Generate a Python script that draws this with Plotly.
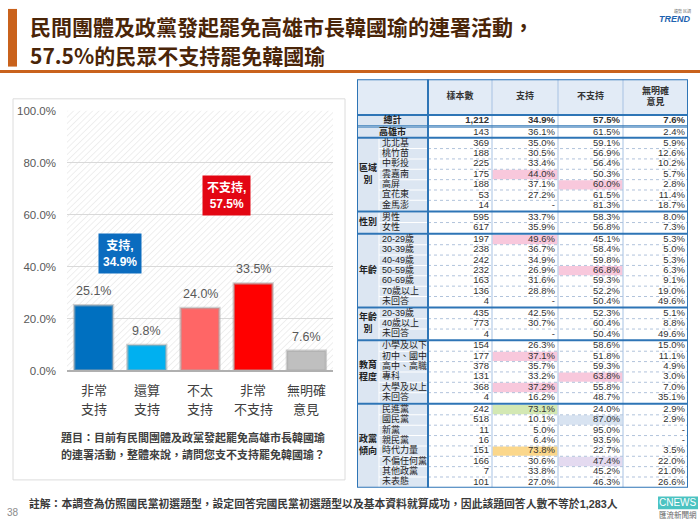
import base64
import plotly.graph_objects as go

W, H = 700, 525
FONT = "Liberation Sans, 'Noto Sans CJK TC', sans-serif"
CJK = "'Noto Sans CJK TC', sans-serif"

# ---------------- data: bar chart ----------------
bar_line1 = ["非常", "還算", "不太", "非常", "無明確"]
bar_line2 = ["支持", "支持", "支持", "不支持", "意見"]
bar_values = [25.1, 9.8, 24.0, 33.5, 7.6]
bar_colors = ["#0070c0", "#00b0f0", "#ff6666", "#ff0000", "#bfbfbf"]
y_ticks = [0, 20, 40, 60, 80, 100]

summary_names = ["支持", "不支持"]
summary_values = [34.9, 57.5]
summary_colors = ["#0b6cbf", "#e30613"]
summary_between = [0.5, 2.5]

# ---------------- data: table ----------------
table_headers = ["樣本數", "支持", "不支持", "無明確<br>意見"]
group_titles = ["", "", "區域<br>別", "性別", "年齡", "年齡<br>別", "教育<br>程度", "政黨<br>傾向"]
group_rows = [
    ["總計"],
    ["高雄市"],
    ["北北基", "桃竹苗", "中彰投", "雲嘉南", "高屏", "宜花東", "金馬澎"],
    ["男性", "女性"],
    ["20-29歲", "30-39歲", "40-49歲", "50-59歲", "60-69歲", "70歲以上", "未回答"],
    ["20-39歲", "40歲以上", "未回答"],
    ["小學及以下", "初中、國中", "高中、高職", "專科", "大學及以上", "未回答"],
    ["民進黨", "國民黨", "新黨", "親民黨", "時代力量", "不偏任何黨", "其他政黨", "未表態"],
]
row_n = [1212, 143,
         369, 188, 225, 175, 188, 53, 14,
         595, 617,
         197, 238, 242, 232, 163, 136, 4,
         435, 773, 4,
         154, 177, 378, 131, 368, 4,
         242, 518, 11, 16, 151, 166, 7, 101]
row_support = [34.9, 36.1,
               35.0, 30.5, 33.4, 44.0, 37.1, 27.2, None,
               33.7, 35.9,
               49.6, 36.7, 34.9, 26.9, 31.6, 28.8, None,
               42.5, 30.7, None,
               26.3, 37.1, 35.7, 33.2, 37.2, 16.2,
               73.1, 10.1, 5.0, 6.4, 73.8, 30.6, 33.8, 27.0]
row_oppose = [57.5, 61.5,
              59.1, 56.9, 56.4, 50.3, 60.0, 61.5, 81.3,
              58.3, 56.8,
              45.1, 58.4, 59.8, 66.8, 59.3, 52.2, 50.4,
              52.3, 60.4, 50.4,
              58.6, 51.8, 59.3, 63.8, 55.8, 48.7,
              24.0, 87.0, 95.0, 93.5, 22.7, 47.4, 45.2, 46.3]
row_none = [7.6, 2.4,
            5.9, 12.6, 10.2, 5.7, 2.8, 11.4, 18.7,
            8.0, 7.3,
            5.3, 5.0, 5.3, 6.3, 9.1, 19.0, 49.6,
            5.1, 8.8, 49.6,
            15.0, 11.1, 4.9, 3.0, 7.0, 35.1,
            2.9, 2.9, None, None, 3.5, 22.0, 21.0, 26.6]

# highlighted cells: (row label, column index 1=支持 2=不支持) -> fill
PINK, GREEN, LBLUE, YELLOW, PURPLE = "#f8c8dc", "#d3e8b3", "#d8e3f1", "#fbd78b", "#e4daf0"
highlights = {
    ("雲嘉南", 1): PINK, ("高屏", 2): PINK, ("20-29歲", 1): PINK, ("50-59歲", 2): PINK,
    ("初中、國中", 1): PINK, ("專科", 2): PINK, ("大學及以上", 1): PINK,
    ("民進黨", 1): GREEN, ("國民黨", 2): LBLUE, ("時代力量", 1): YELLOW, ("不偏任何黨", 2): PURPLE,
}


def fmt_pct(v):
    return "-" if v is None else f"{v:.1f}%"


fig = go.Figure()

# ================= bar chart =================
px_left, px_right, px_top, px_bottom = 67, 333, 107, 373
fig.add_trace(go.Bar(
    x=list(range(len(bar_values))), y=bar_values,
    marker=dict(color=bar_colors, line=dict(color="rgba(170,170,170,0.55)", width=2.5)),
    width=0.73, showlegend=False, hoverinfo="skip", xaxis="x", yaxis="y",
))

annotations = []
for i, v in enumerate(bar_values):
    annotations.append(dict(x=i, y=v, xref="x", yref="y", text=f"{v:.1f}%", showarrow=False,
                            yanchor="bottom", yshift=5,
                            font=dict(family=FONT, size=12.5, color="#595959")))
    annotations.append(dict(x=i, y=0, xref="x", yref="y", text=bar_line1[i], showarrow=False,
                            yanchor="middle", yshift=-19,
                            font=dict(family=CJK, size=13, color="#404040")))
    annotations.append(dict(x=i, y=0, xref="x", yref="y", text=bar_line2[i], showarrow=False,
                            yanchor="middle", yshift=-38,
                            font=dict(family=CJK, size=13, color="#404040")))

for name, v, c, xb in zip(summary_names, summary_values, summary_colors, summary_between):
    annotations.append(dict(x=xb, y=v + 10, xref="x", yref="y",
                            text=f"<b>{name},<br>{v:.1f}%</b>", showarrow=False,
                            bgcolor=c, borderpad=4, align="center",
                            font=dict(family=FONT, size=12, color="white")))

# hatch background of plot area
svg = ("<svg xmlns='http://www.w3.org/2000/svg' width='266' height='266'>"
       "<defs><pattern id='p' width='4.5' height='4.5' patternUnits='userSpaceOnUse' "
       "patternTransform='rotate(45)'><line x1='0' y1='0' x2='0' y2='4.5' stroke='#e1e1e1' "
       "stroke-width='1.1'/></pattern></defs>"
       "<rect width='100%' height='100%' fill='white'/>"
       "<rect width='100%' height='100%' fill='url(#p)'/></svg>")
img_src = "data:image/svg+xml;base64," + base64.b64encode(svg.encode()).decode()

images = [dict(source=img_src, xref="paper", yref="paper",
               x=px_left / W, y=1 - px_top / H,
               sizex=(px_right - px_left) / W, sizey=(px_bottom - px_top) / H,
               xanchor="left", yanchor="top", sizing="stretch", layer="below")]

# ================= table =================
col_edges = [0, 22, 71, 135, 201, 266, 331]
header_h = 36.5
row_h = 10.6
block_gaps = [0.3, 1.6, 0.7, 1.5, 1.5, 1.5, 1.5, 1.5]

row_labels, row_titles, row_top, block_span = [], [], [], []
y = header_h
for bi, rows in enumerate(group_rows):
    y += block_gaps[bi]
    b0 = y
    for lab in rows:
        row_labels.append(lab)
        row_titles.append(group_titles[bi])
        row_top.append(y)
        y += row_h
    block_span.append((b0, y))
table_bottom = y + 0.3
row_center = [t + row_h / 2 for t in row_top]

tb_left, tb_top = 357, 75
BLUE = "#2e75b6"
THIN = "#a7c2e3"
LABEL_FILL = "#dce6f2"
shapes = []


def trect(x0, x1, y0, y1, fill):
    shapes.append(dict(type="rect", xref="x2", yref="y2", x0=x0, x1=x1, y0=y0, y1=y1,
                       fillcolor=fill, line=dict(width=0), layer="below"))


def tline(x0, x1, y0, y1, color, width, dash="solid"):
    shapes.append(dict(type="line", xref="x2", yref="y2", x0=x0, x1=x1, y0=y0, y1=y1,
                       line=dict(color=color, width=width, dash=dash), layer="below"))


# header fill
trect(0, col_edges[-1], 0, header_h, "#e2ebf6")
# label fills
for bi, (b0, b1) in enumerate(block_span):
    if group_titles[bi] == "":
        trect(0, col_edges[2], b0, b1, LABEL_FILL)
    else:
        trect(0, col_edges[1] - 0.5, b0, b1, LABEL_FILL)
for t, title in zip(row_top, row_titles):
    if title != "":
        trect(col_edges[1] + 0.5, col_edges[2], t + 0.5, t + row_h - 0.5, LABEL_FILL)
# highlight fills
for (lab, c), color in highlights.items():
    r = row_labels.index(lab)
    trect(col_edges[2 + c] + 0.5, col_edges[3 + c] - 0.5, row_top[r] + 0.5, row_top[r] + row_h - 0.5, color)
# dotted row lines inside blocks
for bi, (b0, b1) in enumerate(block_span):
    n_rows = len(group_rows[bi])
    for k in range(1, n_rows):
        yy = b0 + k * row_h
        tline(col_edges[2], col_edges[-1], yy, yy, "#9db4d2", 0.8, "dot")
# data column separators
for xe in col_edges[3:-1]:
    tline(xe, xe, 0, table_bottom, THIN, 1)
# header bottom
tline(0, col_edges[-1], header_h, header_h, BLUE, 2)
# double line under 總計
d0 = block_span[0][1]
tline(0, col_edges[-1], d0 + 0.2, d0 + 0.2, BLUE, 1)
tline(0, col_edges[-1], d0 + 1.5, d0 + 1.5, BLUE, 1)
# thick block separators
for bi in range(2, len(block_span)):
    yy = block_span[bi][0] - block_gaps[bi] / 2
    tline(0, col_edges[-1], yy, yy, BLUE, 2)
# main vertical divider
tline(col_edges[2], col_edges[2], 0, table_bottom, BLUE, 2)
# outer border
shapes.append(dict(type="rect", xref="x2", yref="y2", x0=0, x1=col_edges[-1], y0=0, y1=table_bottom,
                   line=dict(color=BLUE, width=2), fillcolor="rgba(0,0,0,0)", layer="below"))

# header text
fig.add_trace(go.Scatter(
    x=[(col_edges[2 + i] + col_edges[3 + i]) / 2 for i in range(4)],
    y=[header_h / 2] * 4, text=[f"<b>{h}</b>" for h in table_headers],
    mode="text", textposition="middle center",
    textfont=dict(family=FONT, size=9, color="#333333"),
    xaxis="x2", yaxis="y2", showlegend=False, hoverinfo="skip", cliponaxis=False))

# merged labels (總計 / 高雄市) and sub-labels
mx, my, mt = [], [], []
sx, sy, st = [], [], []
for lab, title, yc in zip(row_labels, row_titles, row_center):
    if title == "":
        mx.append(col_edges[2] / 2); my.append(yc); mt.append(f"<b>{lab}</b>")
    else:
        sx.append(col_edges[1] + 3); sy.append(yc); st.append(lab)
fig.add_trace(go.Scatter(x=mx, y=my, text=mt, mode="text", textposition="middle center",
                         textfont=dict(family=FONT, size=9, color="#222222"),
                         xaxis="x2", yaxis="y2", showlegend=False, hoverinfo="skip", cliponaxis=False))
fig.add_trace(go.Scatter(x=sx, y=sy, text=st, mode="text", textposition="middle right",
                         textfont=dict(family=FONT, size=9, color="#222222"),
                         xaxis="x2", yaxis="y2", showlegend=False, hoverinfo="skip", cliponaxis=False))
# group titles
gx, gy, gt = [], [], []
for bi, (b0, b1) in enumerate(block_span):
    if group_titles[bi] != "":
        gx.append(col_edges[1] / 2); gy.append((b0 + b1) / 2); gt.append(f"<b>{group_titles[bi]}</b>")
fig.add_trace(go.Scatter(x=gx, y=gy, text=gt, mode="text", textposition="middle center",
                         textfont=dict(family=FONT, size=9, color="#222222"),
                         xaxis="x2", yaxis="y2", showlegend=False, hoverinfo="skip", cliponaxis=False))
# values
value_cols = [
    [f"{n:,}" for n in row_n],
    [fmt_pct(v) for v in row_support],
    [fmt_pct(v) for v in row_oppose],
    [fmt_pct(v) for v in row_none],
]
for c, texts in enumerate(value_cols):
    texts = [f"<b>{t}</b>" if i == 0 else t for i, t in enumerate(texts)]
    fig.add_trace(go.Scatter(
        x=[col_edges[3 + c] - 3] * len(texts), y=row_center, text=texts,
        mode="text", textposition="middle left",
        textfont=dict(family=FONT, size=9.5, color="#333333"),
        xaxis="x2", yaxis="y2", showlegend=False, hoverinfo="skip", cliponaxis=False))

# ================= page decorations =================
ORANGE = "#c9621c"
shapes.append(dict(type="rect", xref="paper", yref="paper", x0=8 / W, x1=17 / W, y0=1 - 62 / H, y1=1 - 3 / H,
                   fillcolor=ORANGE, line=dict(width=0)))
shapes.append(dict(type="line", xref="paper", yref="paper", x0=0, x1=1, y0=1 - 67 / H, y1=1 - 67 / H,
                   line=dict(color=ORANGE, width=3)))
# left panel frame
shapes.append(dict(type="rect", xref="paper", yref="paper", x0=13 / W, x1=345 / W, y0=1 - 485 / H, y1=1 - 95 / H,
                   fillcolor="rgba(0,0,0,0)", line=dict(color="#dcdcdc", width=1)))
# CNEWS logo box
shapes.append(dict(type="rect", xref="paper", yref="paper", x0=658 / W, x1=698 / W, y0=1 - 515 / H, y1=1 - 502 / H,
                   fillcolor="#4cc3c2", line=dict(width=0)))

TITLE_C = "#4a2508"
annotations += [
    dict(x=28 / W, y=1 - 20 / H, xref="paper", yref="paper", xanchor="left", yanchor="middle",
         text="<b>民間團體及政黨發起罷免高雄市長韓國瑜的連署活動，</b>", showarrow=False,
         font=dict(family=CJK, size=21, color=TITLE_C)),
    dict(x=28 / W, y=1 - 50 / H, xref="paper", yref="paper", xanchor="left", yanchor="middle",
         text="<b>57.5%的民眾不支持罷免韓國瑜</b>", showarrow=False,
         font=dict(family=CJK, size=21, color=TITLE_C)),
    dict(x=693 / W, y=1 - 13 / H, xref="paper", yref="paper", xanchor="right", yanchor="middle",
         text="<b><i>TREND</i></b>", showarrow=False,
         font=dict(family=FONT, size=9, color="#1f63b0")),
    dict(x=693 / W, y=1 - 5 / H, xref="paper", yref="paper", xanchor="right", yanchor="middle",
         text="趨勢 民調", showarrow=False, font=dict(family=CJK, size=4, color="#777777")),
    dict(x=193 / W, y=1 - 441 / H, xref="paper", yref="paper", xanchor="center", yanchor="middle",
         text="<b>題目：目前有民間團體及政黨發起罷免高雄市長韓國瑜</b>", showarrow=False,
         font=dict(family=CJK, size=11, color="#404040")),
    dict(x=193 / W, y=1 - 458 / H, xref="paper", yref="paper", xanchor="center", yanchor="middle",
         text="<b>的連署活動，整體來說，請問您支不支持罷免韓國瑜？</b>", showarrow=False,
         font=dict(family=CJK, size=11, color="#404040")),
    dict(x=27 / W, y=1 - 509 / H, xref="paper", yref="paper", xanchor="left", yanchor="middle",
         text="<b>註解：本調查為仿照國民黨初選題型，設定回答完國民黨初選題型以及基本資料就算成功，因此該題回答人數不等於1,283人</b>",
         showarrow=False, font=dict(family=FONT, size=10.8, color="#3a3a3a")),
    dict(x=5 / W, y=1 - 518 / H, xref="paper", yref="paper", xanchor="left", yanchor="middle",
         text="38", showarrow=False, font=dict(family=FONT, size=10, color="#8c8c8c")),
    dict(x=678 / W, y=1 - 508.5 / H, xref="paper", yref="paper", xanchor="center", yanchor="middle",
         text="CNEWS", showarrow=False, font=dict(family=FONT, size=10, color="white")),
    dict(x=678 / W, y=1 - 520 / H, xref="paper", yref="paper", xanchor="center", yanchor="middle",
         text="匯流新聞網", showarrow=False, font=dict(family=CJK, size=7.5, color="#666666")),
]

fig.update_layout(
    width=W, height=H, autosize=False,
    margin=dict(l=0, r=0, t=0, b=0, pad=0),
    paper_bgcolor="white", plot_bgcolor="rgba(0,0,0,0)",
    font=dict(family=FONT),
    showlegend=False,
    xaxis=dict(domain=[px_left / W, px_right / W], range=[-0.5, len(bar_values) - 0.5],
               showticklabels=False, showgrid=False, zeroline=False,
               showline=True, linecolor="#b0b0b0", linewidth=1.5, fixedrange=True),
    yaxis=dict(domain=[1 - px_bottom / H, 1 - px_top / H], range=[0, 100],
               tickvals=y_ticks, ticktext=[f"{v:.1f}%" for v in y_ticks],
               tickfont=dict(family=FONT, size=11.5, color="#595959"),
               ticks="", ticklabelstandoff=10,
               showgrid=True, gridcolor="#d9d9d9", gridwidth=1, zeroline=False, fixedrange=True),
    xaxis2=dict(domain=[tb_left / W, (tb_left + col_edges[-1]) / W], range=[0, col_edges[-1]],
                anchor="y2", showticklabels=False, showgrid=False, zeroline=False, showline=False,
                fixedrange=True),
    yaxis2=dict(domain=[1 - (tb_top + table_bottom) / H, 1 - tb_top / H], range=[table_bottom, 0],
                anchor="x2", showticklabels=False, showgrid=False, zeroline=False, showline=False,
                fixedrange=True),
    shapes=shapes, annotations=annotations, images=images,
    bargap=0.27,
)

fig.write_html("out.html")
